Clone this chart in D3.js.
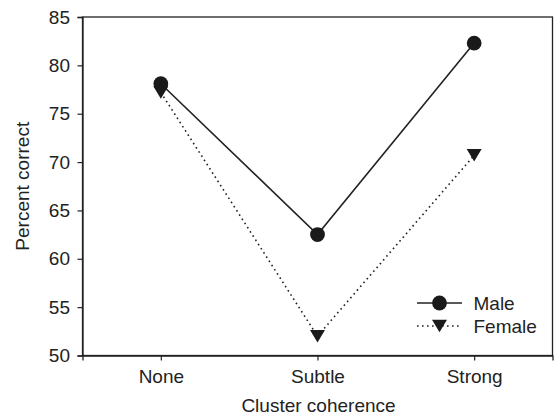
<!DOCTYPE html>
<html>
<head>
<meta charset="utf-8">
<script src="https://cdn.jsdelivr.net/npm/d3@7"></script>
<style>
  html, body { margin: 0; padding: 0; background: #fff; }
  svg { display: block; }
  text { font-family: "Liberation Sans", Arial, sans-serif; fill: #222; }
</style>
</head>
<body>
<svg id="chart" width="554" height="418"></svg>
<script>
const categories = ["None", "Subtle", "Strong"];
const maleValues = [78.1, 62.5, 82.3];
const femaleValues = [77.2, 52.0, 70.7];
const yTicks = [50, 55, 60, 65, 70, 75, 80, 85];
const seriesNames = ["Male", "Female"];

(function () {
const svg = d3.select("#chart");
const pLeft = 82.5, pRight = 552.5, pTop = 17, pBottom = 355.5;
const FS = 19;

const x = d3.scalePoint().domain(categories).range([pLeft, pRight]).padding(0.5);
const y = d3.scaleLinear().domain([50, 85]).range([pBottom, pTop]);

// frame
svg.append("rect")
  .attr("x", pLeft).attr("y", pTop)
  .attr("width", pRight - pLeft).attr("height", pBottom - pTop)
  .attr("fill", "none").attr("stroke", "#222").attr("stroke-width", 1.3);

// y axis
const yAxis = svg.append("g").attr("transform", `translate(${pLeft},0)`)
  .call(d3.axisLeft(y).tickValues(yTicks).tickSize(5).tickPadding(7.5));
yAxis.select(".domain").attr("stroke", "#222").attr("stroke-width", 1.3);
yAxis.selectAll(".tick line").attr("stroke", "#222").attr("stroke-width", 1.2);
yAxis.selectAll("text").attr("font-size", FS).attr("fill", "#222")
  .attr("font-family", "Liberation Sans, Arial, sans-serif");

// x axis
const xAxis = svg.append("g").attr("transform", `translate(0,${pBottom})`)
  .call(d3.axisBottom(x).tickSize(5).tickPadding(9.5));
xAxis.select(".domain").attr("stroke", "#222").attr("stroke-width", 1.3);
xAxis.selectAll(".tick line").attr("stroke", "#222").attr("stroke-width", 1.2);
xAxis.selectAll("text").attr("font-size", FS).attr("fill", "#222")
  .attr("font-family", "Liberation Sans, Arial, sans-serif");

// axis titles
svg.append("text")
  .attr("x", (pLeft + pRight) / 2 + 1).attr("y", 412)
  .attr("text-anchor", "middle").attr("font-size", FS)
  .text("Cluster coherence");
svg.append("text")
  .attr("transform", `translate(29,${(pTop + pBottom) / 2}) rotate(-90)`)
  .attr("text-anchor", "middle").attr("font-size", FS)
  .text("Percent correct");

const line = d3.line().x((d, i) => x(categories[i])).y(d => y(d));

// female dotted line
svg.append("path").datum(femaleValues)
  .attr("d", line).attr("fill", "none")
  .attr("stroke", "#222").attr("stroke-width", 1.6)
  .attr("stroke-dasharray", "1.6,3.4");

// male solid line
svg.append("path").datum(maleValues)
  .attr("d", line).attr("fill", "none")
  .attr("stroke", "#222").attr("stroke-width", 1.6);

function triPath(cx, cy, w, h) {
  return `M${cx - w / 2},${cy - h / 2}L${cx + w / 2},${cy - h / 2}L${cx},${cy + h / 2}Z`;
}

// female markers (down triangles)
svg.append("g").selectAll("path").data(femaleValues).join("path")
  .attr("d", (d, i) => triPath(x(categories[i]), y(d), 15, 12.5))
  .attr("fill", "#1a1a1a");

// male markers
svg.append("g").selectAll("circle").data(maleValues).join("circle")
  .attr("cx", (d, i) => x(categories[i])).attr("cy", d => y(d))
  .attr("r", 7.4).attr("fill", "#1a1a1a");

// legend
const lg = svg.append("g");
const lx1 = 417, lx2 = 462, lmx = 439.5;
const rowY = [303, 326];
lg.append("line").attr("x1", lx1).attr("x2", lx2).attr("y1", rowY[0]).attr("y2", rowY[0])
  .attr("stroke", "#222").attr("stroke-width", 1.6);
lg.append("circle").attr("cx", lmx).attr("cy", rowY[0]).attr("r", 7.4).attr("fill", "#1a1a1a");
lg.append("line").attr("x1", lx1).attr("x2", lx2).attr("y1", rowY[1]).attr("y2", rowY[1])
  .attr("stroke", "#222").attr("stroke-width", 1.6).attr("stroke-dasharray", "1.6,3.4");
lg.append("path").attr("d", triPath(lmx, rowY[1], 15, 12.5)).attr("fill", "#1a1a1a");
lg.selectAll("text.leg").data(seriesNames).join("text").attr("class", "leg")
  .attr("x", 473.5).attr("y", (d, i) => rowY[i] + 6.8)
  .attr("font-size", FS).text(d => d);
})();
</script>
</body>
</html>
